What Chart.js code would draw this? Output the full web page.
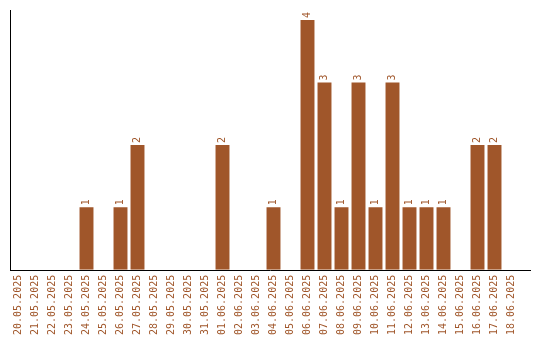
<!DOCTYPE html>
<html>
<head>
<meta charset="utf-8">
<script src="https://cdn.jsdelivr.net/npm/chart.js@4/dist/chart.umd.min.js"></script>
<style>
html,body{margin:0;padding:0;background:#fff;}
#wrap{width:540px;height:340px;}
</style>
</head>
<body>
<div id="wrap"><canvas id="c" width="540" height="340"></canvas></div>
<script>
const categories = ["20.05.2025","21.05.2025","22.05.2025","23.05.2025","24.05.2025","25.05.2025","26.05.2025","27.05.2025","28.05.2025","29.05.2025","30.05.2025","31.05.2025","01.06.2025","02.06.2025","03.06.2025","04.06.2025","05.06.2025","06.06.2025","07.06.2025","08.06.2025","09.06.2025","10.06.2025","11.06.2025","12.06.2025","13.06.2025","14.06.2025","15.06.2025","16.06.2025","17.06.2025","18.06.2025"];
const counts = [0,0,0,0,1,0,1,2,0,0,0,0,2,0,0,1,0,4,3,1,3,1,3,1,1,1,0,2,2,0];

const BROWN = '#a0562a';
const FONT = {family: "'DejaVu Sans Mono', monospace", size: 10};

const valueLabels = {
  id: 'valueLabels',
  afterDatasetsDraw(chart) {
    const ctx = chart.ctx;
    const meta = chart.getDatasetMeta(0);
    ctx.save();
    ctx.fillStyle = BROWN;
    ctx.font = FONT.size + 'px ' + FONT.family;
    ctx.textAlign = 'left';
    ctx.textBaseline = 'middle';
    meta.data.forEach((bar, i) => {
      const v = counts[i];
      if (!v) return;
      ctx.save();
      ctx.translate(bar.x, bar.y - 2);
      ctx.rotate(-Math.PI / 2);
      ctx.fillText(String(v), 0, 0);
      ctx.restore();
    });
    ctx.restore();
  }
};

const xAxisLine = {
  id: 'xAxisLine',
  afterDraw(chart) {
    const ctx = chart.ctx;
    const a = chart.chartArea;
    const y = Math.round(a.bottom) + 0.5;
    ctx.save();
    ctx.strokeStyle = '#000';
    ctx.lineWidth = 1;
    ctx.beginPath();
    ctx.moveTo(Math.round(a.left), y);
    ctx.lineTo(531, y);
    ctx.stroke();
    ctx.restore();
  }
};

new Chart(document.getElementById('c'), {
  type: 'bar',
  data: {
    labels: categories,
    datasets: [{
      data: counts,
      backgroundColor: BROWN,
      borderWidth: 0,
      categoryPercentage: 1,
      barPercentage: 0.82
    }]
  },
  options: {
    responsive: false,
    animation: false,
    layout: {padding: {top: 10, left: 10, right: 20, bottom: 0}},
    plugins: {legend: {display: false}, tooltip: {enabled: false}},
    scales: {
      x: {
        grid: {display: false, drawTicks: false},
        border: {display: false},
        ticks: {color: BROWN, font: FONT, minRotation: 90, maxRotation: 90, autoSkip: false, padding: 5}
      },
      y: {
        min: 0, max: 4.16,
        grid: {display: false, drawTicks: false},
        border: {display: true, color: '#000', width: 1},
        ticks: {display: false}
      }
    }
  },
  plugins: [valueLabels, xAxisLine]
});
</script>
</body>
</html>
